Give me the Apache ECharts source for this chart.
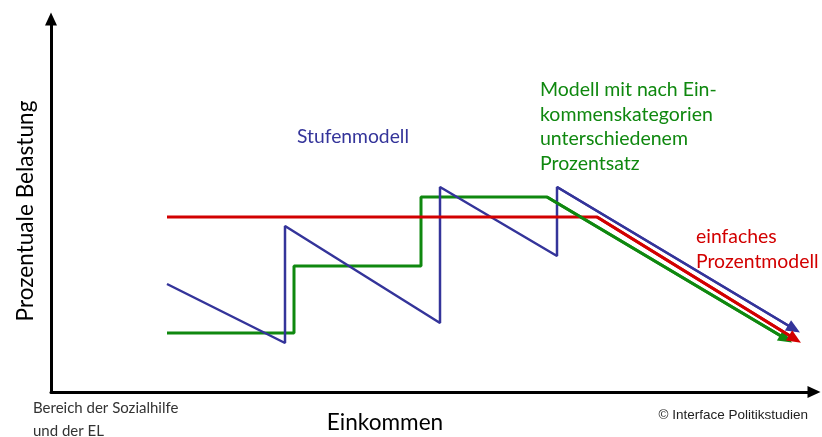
<!DOCTYPE html>
<html>
<head>
<meta charset="utf-8">
<script src="https://cdn.jsdelivr.net/npm/echarts@6/dist/echarts.min.js"></script>
<style>html,body{margin:0;padding:0;background:#fff}#c{width:822px;height:437px}</style>
</head>
<body>
<div id="c"></div>
<script>
// Schematic income (x) vs. percentage burden (y)
const stufenX = [116, 234, 234, 389, 389, 506, 506, 743];
const stufenY = [108, 49, 166, 69, 205, 136, 205, 63];
const kategorienX = [116, 243, 243, 370, 370, 496, 735];
const kategorienY = [59, 59, 126, 126, 195, 195, 53];
const prozentX = [116, 546, 744];
const prozentY = [175, 175, 53];

const labelStufen = 'Stufenmodell';
const labelKategorien = ['Modell mit nach Ein-', 'kommenskategorien', 'unterschiedenem', 'Prozentsatz'];
const labelProzent = ['einfaches', 'Prozentmodell'];
const axisNameY = 'Prozentuale Belastung';
const axisNameX = 'Einkommen';
const noteLeft = ['Bereich der Sozialhilfe', 'und der EL'];
const noteRight = '© Interface Politikstudien';

const BLUE = '#34349a', GREEN = '#0f880f', RED = '#d20000';
const FONT = 'Lato';

function coords(xs, ys) { return xs.map((x, i) => [x, ys[i]]); }

const chart = echarts.init(document.getElementById('c'), null, {renderer: 'canvas'});

function lineSeries(name, xs, ys, color, width) {
  const n = xs.length;
  return {
    name: name,
    type: 'line',
    data: coords(xs, ys),
    showSymbol: false,
    symbol: 'none',
    lineStyle: {color: color, width: width},
    itemStyle: {color: color},
    z: 3,
    markLine: {
      silent: true,
      symbol: ['none', 'triangle'],
      symbolSize: [12, 14],
      label: {show: false},
      lineStyle: {color: color, width: width, type: 'solid'},
      data: [[{coord: [xs[n - 2], ys[n - 2]]}, {coord: [xs[n - 1], ys[n - 1]]}]]
    }
  };
}

function textBlock(lines, x, y, color, size, lh, font) {
  return lines.map((t, i) => ({
    type: 'text', x: x, y: y + i * lh,
    style: {text: t, fill: color, font: size + 'px ' + (font || FONT), textVerticalAlign: 'middle'}
  }));
}

chart.setOption({
  animation: false,
  grid: {left: 51, right: 8, top: 19, bottom: 45},
  xAxis: {
    type: 'value', min: 0, max: 763,
    axisLine: {show: true, onZero: false, symbol: ['none', 'triangle'], symbolSize: [12, 13], lineStyle: {color: '#000', width: 3}},
    axisTick: {show: false}, axisLabel: {show: false}, splitLine: {show: false}
  },
  yAxis: {
    type: 'value', min: 0, max: 373,
    axisLine: {show: true, onZero: false, symbol: ['none', 'triangle'], symbolSize: [12, 13], lineStyle: {color: '#000', width: 3}},
    axisTick: {show: false}, axisLabel: {show: false}, splitLine: {show: false}
  },
  series: [
    lineSeries('Modell mit nach Einkommenskategorien unterschiedenem Prozentsatz', kategorienX, kategorienY, GREEN, 3),
    lineSeries('Stufenmodell', stufenX, stufenY, BLUE, 2.5),
    lineSeries('einfaches Prozentmodell', prozentX, prozentY, RED, 3)
  ],
  graphic: [
    {type: 'text', x: 297, y: 137, style: {text: labelStufen, fill: BLUE, font: '19.3px ' + FONT, textVerticalAlign: 'middle'}},
    ...textBlock(labelKategorien, 540, 90, GREEN, 19.5, 24.5),
    ...textBlock(labelProzent, 696, 237, RED, 19.4, 25),
    {type: 'text', x: 26, y: 211, rotation: Math.PI / 2,
     style: {text: axisNameY, fill: '#000', font: '22.6px ' + FONT, textAlign: 'center', textVerticalAlign: 'middle'}},
    {type: 'text', x: 385, y: 423,
     style: {text: axisNameX, fill: '#000', font: '22.6px ' + FONT, textAlign: 'center', textVerticalAlign: 'middle'}},
    ...textBlock(noteLeft, 33, 408, '#333', 15, 23),
    {type: 'text', x: 808, y: 415,
     style: {text: noteRight, fill: '#222', font: '13.5px "Liberation Sans", Arial', textAlign: 'right', textVerticalAlign: 'middle'}}
  ]
});
</script>
</body>
</html>
